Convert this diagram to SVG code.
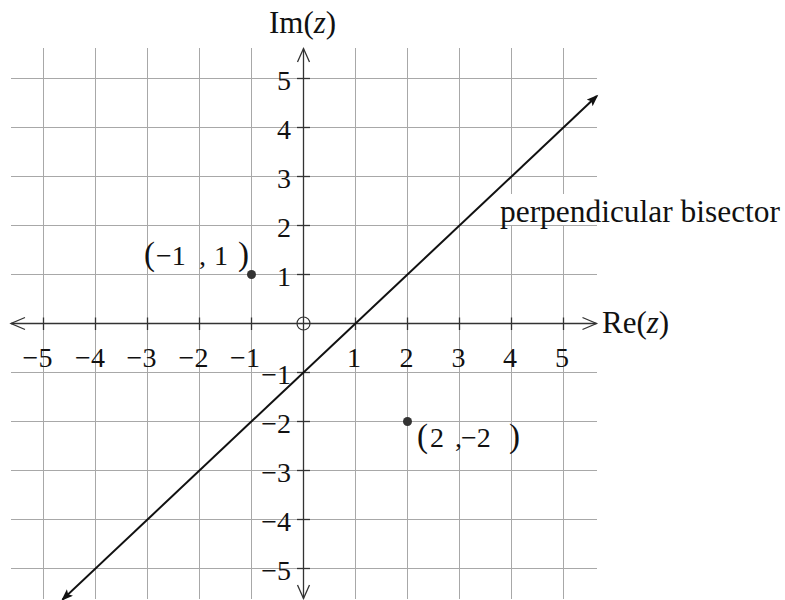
<svg xmlns="http://www.w3.org/2000/svg" width="785" height="600" viewBox="0 0 785 600">
<style>
.grid line{stroke:#a8a8a8;stroke-width:1}
.axis{stroke:#333;stroke-width:1.3;fill:none}
.tick{stroke:#333;stroke-width:1.3}
text{font-family:"Liberation Serif","Times New Roman",serif;fill:#111}
.num{font-size:28px}
.lbl{font-size:31px}
.pt{fill:#333}
.par{font-size:33px}
.pl{font-size:28px}
</style>
<defs>
<marker id="arr" markerUnits="userSpaceOnUse" markerWidth="14" markerHeight="12" refX="10" refY="4.5" orient="auto-start-reverse" viewBox="0 0 14 12">
<path d="M0,0 L12,4.5 L0,9 L2.5,4.5 z" fill="#111"/>
</marker>
</defs>
<rect width="785" height="600" fill="#fff"/>
<g id="grid" class="grid">
<line x1="43.5" y1="48" x2="43.5" y2="599"/>
<line x1="95.5" y1="48" x2="95.5" y2="599"/>
<line x1="147.5" y1="48" x2="147.5" y2="599"/>
<line x1="199.5" y1="48" x2="199.5" y2="599"/>
<line x1="251.5" y1="48" x2="251.5" y2="599"/>
<line x1="355.5" y1="48" x2="355.5" y2="599"/>
<line x1="407.5" y1="48" x2="407.5" y2="599"/>
<line x1="459.5" y1="48" x2="459.5" y2="599"/>
<line x1="511.5" y1="48" x2="511.5" y2="599"/>
<line x1="563.5" y1="48" x2="563.5" y2="599"/>
<line x1="11" y1="78.5" x2="597" y2="78.5"/>
<line x1="11" y1="127.5" x2="597" y2="127.5"/>
<line x1="11" y1="176.5" x2="597" y2="176.5"/>
<line x1="11" y1="225.5" x2="597" y2="225.5"/>
<line x1="11" y1="274.5" x2="597" y2="274.5"/>
<line x1="11" y1="372.5" x2="597" y2="372.5"/>
<line x1="11" y1="421.5" x2="597" y2="421.5"/>
<line x1="11" y1="470.5" x2="597" y2="470.5"/>
<line x1="11" y1="519.5" x2="597" y2="519.5"/>
<line x1="11" y1="568.5" x2="597" y2="568.5"/>
</g>
<rect x="496" y="194" width="289" height="31" fill="#fff"/>
<g id="axes">
<line class="axis" x1="11" y1="323.5" x2="596.5" y2="323.5"/>
<line class="axis" x1="303.5" y1="48.5" x2="303.5" y2="598.5"/>
<path class="axis" d="M25,317.5 L11,323.5 L25,329.5"/>
<path class="axis" d="M582.5,317.5 L596.5,323.5 L582.5,329.5"/>
<path class="axis" d="M297.5,62 L303.5,48.5 L309.5,62"/>
<path class="axis" d="M297.5,585 L303.5,598.5 L309.5,585"/>
<g class="tick">
<line x1="43.5" y1="317.5" x2="43.5" y2="330"/>
<line x1="95.5" y1="317.5" x2="95.5" y2="330"/>
<line x1="147.5" y1="317.5" x2="147.5" y2="330"/>
<line x1="199.5" y1="317.5" x2="199.5" y2="330"/>
<line x1="251.5" y1="317.5" x2="251.5" y2="330"/>
<line x1="355.5" y1="317.5" x2="355.5" y2="330"/>
<line x1="407.5" y1="317.5" x2="407.5" y2="330"/>
<line x1="459.5" y1="317.5" x2="459.5" y2="330"/>
<line x1="511.5" y1="317.5" x2="511.5" y2="330"/>
<line x1="563.5" y1="317.5" x2="563.5" y2="330"/>
<line x1="297" y1="78.5" x2="310" y2="78.5"/>
<line x1="297" y1="127.5" x2="310" y2="127.5"/>
<line x1="297" y1="176.5" x2="310" y2="176.5"/>
<line x1="297" y1="225.5" x2="310" y2="225.5"/>
<line x1="297" y1="274.5" x2="310" y2="274.5"/>
<line x1="297" y1="372.5" x2="310" y2="372.5"/>
<line x1="297" y1="421.5" x2="310" y2="421.5"/>
<line x1="297" y1="470.5" x2="310" y2="470.5"/>
<line x1="297" y1="519.5" x2="310" y2="519.5"/>
<line x1="297" y1="568.5" x2="310" y2="568.5"/>
</g>
<circle cx="303.5" cy="323.5" r="6.5" fill="none" stroke="#333" stroke-width="1.2"/>
</g>
<g id="xlabels" class="num" text-anchor="middle">
<text x="37.5" y="367">−5</text>
<text x="90" y="367">−4</text>
<text x="141.5" y="367">−3</text>
<text x="193.5" y="367">−2</text>
<text x="245" y="367">−1</text>
<text x="354" y="367">1</text>
<text x="406.5" y="367">2</text>
<text x="458.5" y="367">3</text>
<text x="510" y="367">4</text>
<text x="562" y="367">5</text>
</g>
<g id="ylabels" class="num" text-anchor="end">
<text x="291" y="90">5</text>
<text x="291" y="139">4</text>
<text x="291" y="188">3</text>
<text x="291" y="237">2</text>
<text x="291" y="286">1</text>
<text x="291" y="384">−1</text>
<text x="291" y="433">−2</text>
<text x="291" y="482">−3</text>
<text x="291" y="531">−4</text>
<text x="291" y="580">−5</text>
</g>
<g id="axis-titles" class="lbl">
<text x="269" y="33">Im(<tspan font-style="italic">z</tspan>)</text>
<text x="602" y="333">Re(<tspan font-style="italic">z</tspan>)</text>
</g>
<g id="connectors">
<line x1="62.7" y1="599.4" x2="596.8" y2="96.1" stroke="#111" stroke-width="2" marker-start="url(#arr)" marker-end="url(#arr)"/>
</g>
<g id="bisector-label">
<text class="lbl" x="500" y="222" textLength="280" lengthAdjust="spacingAndGlyphs">perpendicular bisector</text>
</g>
<g id="point-a">
<circle class="pt" cx="251.5" cy="274.5" r="4.5"/>
<text class="par" x="144" y="265">(</text>
<text class="pl" x="156" y="265">−1</text>
<text class="pl" x="199" y="265">,</text>
<text class="pl" x="214" y="265">1</text>
<text class="par" x="238" y="265">)</text>
</g>
<g id="point-b">
<circle class="pt" cx="407.5" cy="421.5" r="4.5"/>
<text class="par" x="417" y="447">(</text>
<text class="pl" x="430" y="447">2</text>
<text class="pl" x="455" y="447">,</text>
<text class="pl" x="461" y="447">−2</text>
<text class="par" x="509" y="447">)</text>
</g>
</svg>
